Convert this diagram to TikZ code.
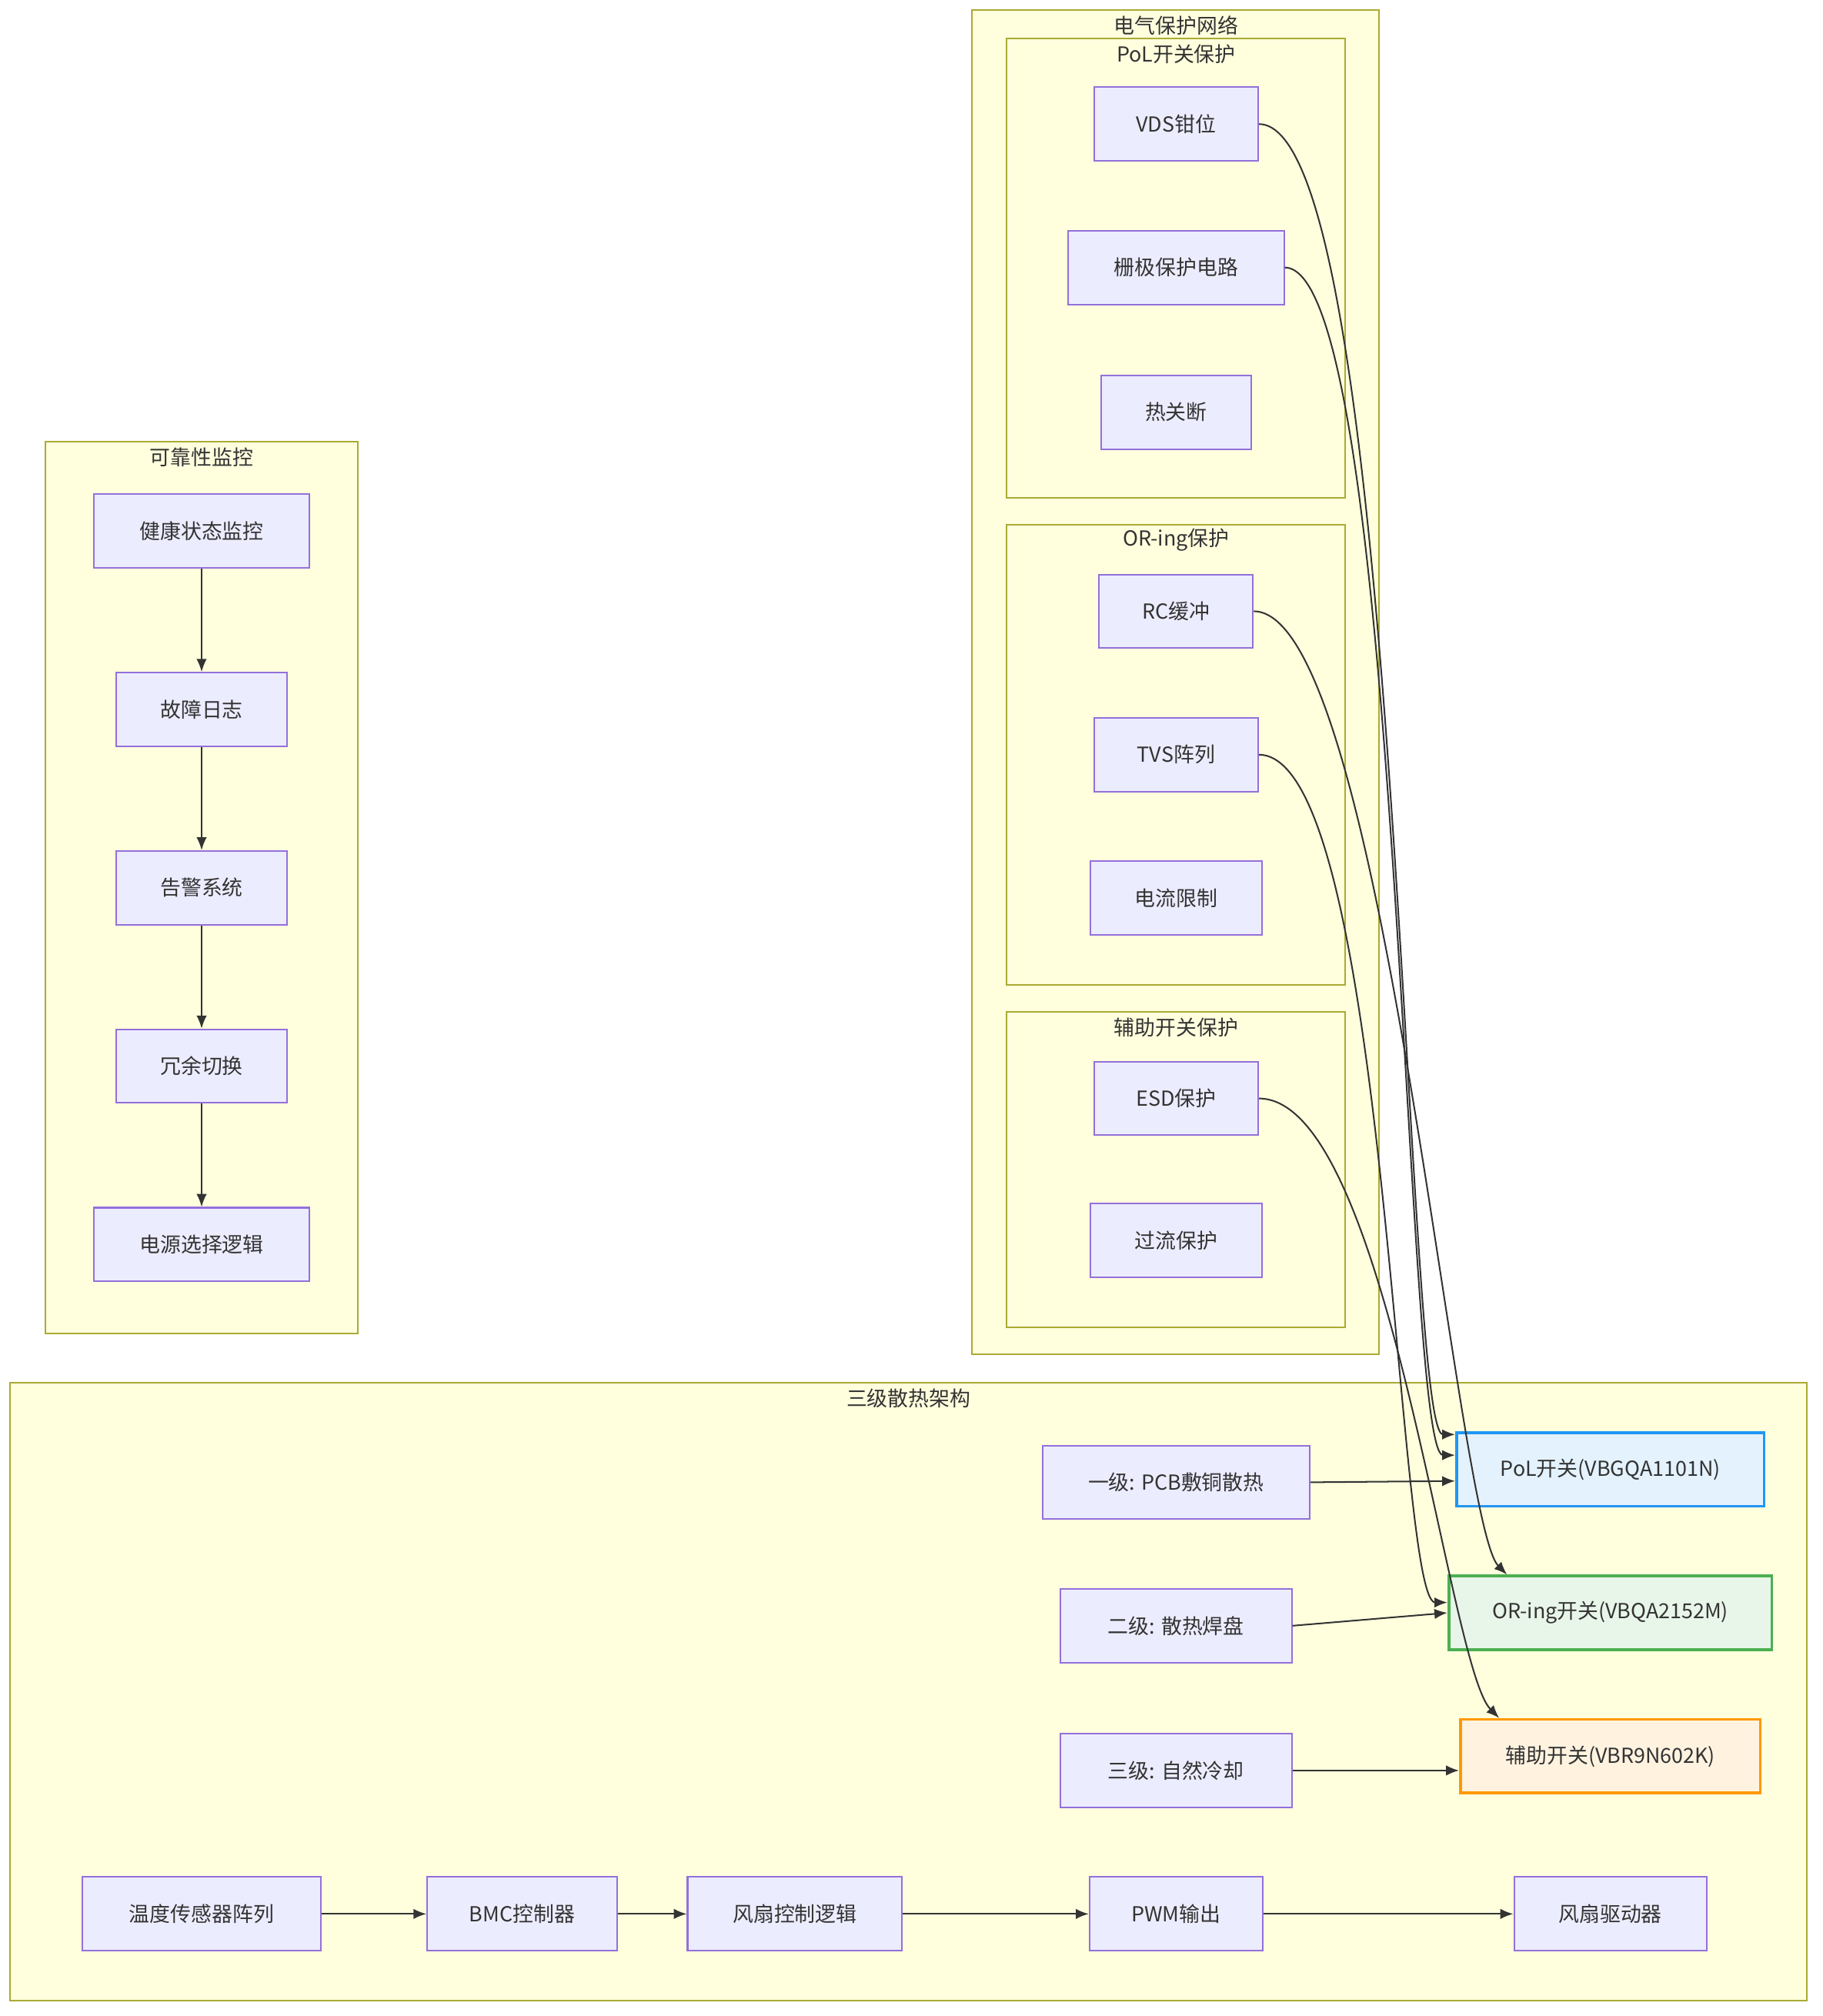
\documentclass[tikz,border=0pt]{standalone}
\usepackage{fontspec}
\setmainfont{Noto Sans CJK SC}
\usetikzlibrary{arrows.meta,positioning}
\definecolor{boxfill}{HTML}{ECECFF}
\definecolor{boxline}{HTML}{9370DB}
\definecolor{grpfill}{HTML}{FFFFDE}
\definecolor{grpline}{HTML}{AAAA33}
\definecolor{linkcol}{HTML}{333333}
\definecolor{polline}{HTML}{2196F3}
\definecolor{polfill}{HTML}{E3F2FD}
\definecolor{orline}{HTML}{4CAF50}
\definecolor{orfill}{HTML}{E8F5E9}
\definecolor{auxline}{HTML}{FF9800}
\definecolor{auxfill}{HTML}{FFF3E0}
\tikzset{
    % Boxes
    box/.style={draw=boxline,fill=boxfill,line width=0.6pt,minimum height=28.5pt,minimum width=#1,inner sep=2pt},
    box/.default=60pt,
    pol box/.style={box=119pt,draw=polline,fill=polfill,line width=1.1pt},
    oring box/.style={box=125pt,draw=orline,fill=orfill,line width=1.1pt},
    aux box/.style={box=116pt,draw=auxline,fill=auxfill,line width=1.1pt},
    %
    % Groups
    group/.style={draw=grpline,fill=grpfill,line width=0.6pt},
    group title/.style={anchor=center},
    %
    % Arrows
    arr/.style={-{Latex[length=5pt,width=4pt]},draw=linkcol,line width=0.6pt},
}
\tikzstyle{every node}=[font=\fontsize{8}{10}\selectfont,text=linkcol]

\begin{document}
\begin{tikzpicture}[x=0.5pt,y=-0.5pt]
    \useasboundingbox (0,0) rectangle (1410,1560);
    % groups
    \draw[group] (35,342) rectangle (277,1032);
    \node[group title] (tmon) at (156,354) {可靠性监控};
    \draw[group] (752,8) rectangle (1067,1048);
    \node[group title] (telec) at (910,20) {电气保护网络};
    \draw[group] (779,30) rectangle (1041,385);
    \node[group title] (tpol) at (910,42) {PoL开关保护};
    \draw[group] (779,406) rectangle (1041,762);
    \node[group title] (tor) at (910,418) {OR-ing保护};
    \draw[group] (779,783) rectangle (1041,1027);
    \node[group title] (taux) at (910,795) {辅助开关保护};
    \draw[group] (8,1070) rectangle (1398,1548);
    \node[group title] (ttherm) at (703,1082) {三级散热架构};
    %
    % monitoring chain
    \node[box=83.5pt] (health) at (156,411) {健康状态监控};
    \node[box=66pt] (log) at (156,549) {故障日志};
    \node[box=66pt] (alarm) at (156,687) {告警系统};
    \node[box=66pt] (redund) at (156,825) {冗余切换};
    \node[box=83.5pt] (select) at (156,963) {电源选择逻辑};
    \draw[arr] (health) -- (log);
    \draw[arr] (log) -- (alarm);
    \draw[arr] (alarm) -- (redund);
    \draw[arr] (redund) -- (select);
    %
    % protection
    \node[box=63.5pt] (vds) at (910,96) {VDS钳位};
    \node[box=83.5pt] (gate) at (910,207) {栅极保护电路};
    \node[box=58pt] (tsd) at (910,319) {热关断};
    \node[box=59.5pt] (rc) at (910,473) {RC缓冲};
    \node[box=63.5pt] (tvs) at (910,584) {TVS阵列};
    \node[box=66.5pt] (ilim) at (910,695) {电流限制};
    \node[box=63.5pt] (esd) at (910,850) {ESD保护};
    \node[box=66.5pt] (ocp) at (910,960) {过流保护};
    %
    % cooling levels and switches
    \node[box=103.5pt] (lvl1) at (910,1147) {一级: PCB敷铜散热};
    \node[box=89.5pt] (lvl2) at (910,1258) {二级: 散热焊盘};
    \node[box=89.5pt] (lvl3) at (910,1370) {三级: 自然冷却};
    \node[pol box] (pol) at (1246,1137) {PoL开关(VBGQA1101N)};
    \node[oring box] (oring) at (1246,1248) {OR-ing开关(VBQA2152M)};
    \node[aux box] (aux) at (1246,1359) {辅助开关(VBR9N602K)};
    %
    % fan chain
    \node[box=92pt] (sensor) at (156,1481) {温度传感器阵列};
    \node[box=73.5pt] (bmc) at (404,1481) {BMC控制器};
    \node[box=83pt] (fanlogic) at (615,1481) {风扇控制逻辑};
    \node[box=67pt] (pwm) at (910,1481) {PWM输出};
    \node[box=74.5pt] (fandrv) at (1246,1481) {风扇驱动器};
    \draw[arr] (sensor) -- (bmc);
    \draw[arr] (bmc) -- (fanlogic);
    \draw[arr] (fanlogic) -- (pwm);
    \draw[arr] (pwm) -- (fandrv);
    %
    % links to switches
    \draw[arr] (vds.east) .. controls +(110,0) and +(-40,0) .. ([yshift=13.5pt]pol.west);
    \draw[arr] (gate.east) .. controls +(90,0) and +(-40,0) .. ([yshift=5.5pt]pol.west);
    \draw[arr] (lvl1.east) -- ([yshift=-4.5pt]pol.west);
    \draw[arr] (rc.east) .. controls +(100,0) and +(-40,-40) .. ([xshift=-40pt]oring.north);
    \draw[arr] (tvs.east) .. controls +(100,0) and +(-40,0) .. ([yshift=4pt]oring.west);
    \draw[arr] (lvl2.east) -- (oring.west);
    \draw[arr] (esd.east) .. controls +(100,0) and +(-40,-40) .. ([xshift=-43pt]aux.north);
    \draw[arr] (lvl3.east) -- ([yshift=-5.5pt]aux.west);
\end{tikzpicture}
\end{document}
